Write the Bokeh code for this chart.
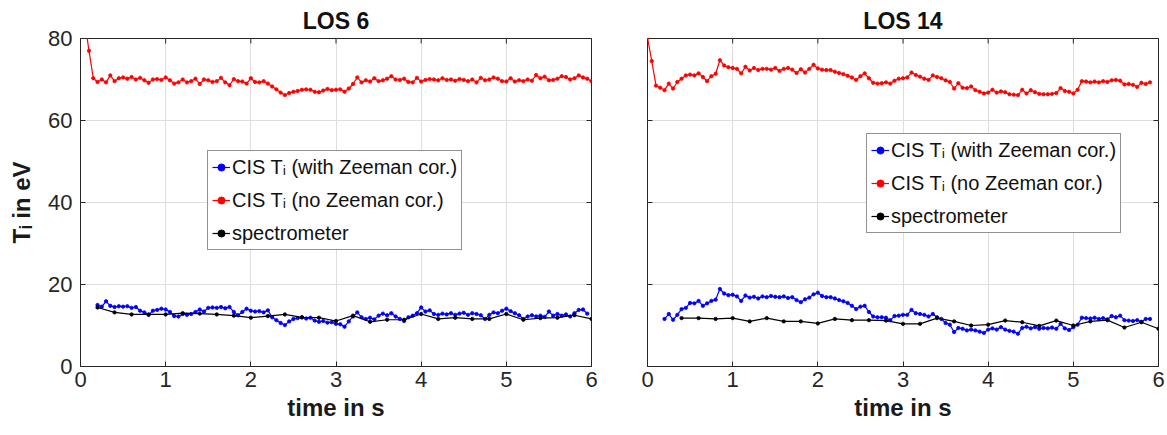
import numpy as np
from bokeh.plotting import figure
from bokeh.layouts import row
from bokeh.models import Legend, LegendItem, Range1d, FixedTicker
from bokeh.embed import file_html
from bokeh.resources import INLINE

FONT = "Liberation Sans"
AX = "#262626"

# ---------------- data ----------------
x_ticks = [0, 1, 2, 3, 4, 5, 6]
y_ticks = [0, 20, 40, 60, 80]
titles = ["LOS 6", "LOS 14"]
labels = ["CIS T\u1d62 (with Zeeman cor.)", "CIS T\u1d62 (no Zeeman cor.)", "spectrometer"]

cis_dt = 0.05
spec_dt = 0.2

# LOS 6
los6_nozee_t0 = 0.05
los6_nozee = [84, 77, 70.3, 69.4, 70.0, 69.3, 71.0, 69.6, 70.3, 70.5,
              70.2, 70.6, 70.0, 70.4, 69.8, 69.2, 70.0, 70.1, 69.9, 70.5,
              69.8, 69.0, 69.3, 70.0, 69.3, 69.6, 70.2, 68.9, 70.0, 69.8,
              69.4, 69.6, 70.4, 69.3, 68.6, 70.1, 69.6, 69.5, 69.0, 70.3,
              69.4, 69.3, 69.6, 69.0, 68.3, 67.6, 66.8, 66.2, 66.7, 67.0,
              67.2, 67.5, 67.6, 67.5, 67.0, 66.9, 67.3, 67.7, 67.4, 67.5,
              67.6, 67.0, 67.8, 68.9, 70.5, 69.3, 69.8, 69.5, 70.3, 69.6,
              69.8, 70.2, 70.8, 70.0, 69.9, 70.2, 69.4, 69.3, 70.4, 69.5,
              69.9, 70.1, 70.0, 69.8, 70.3, 69.9, 70.0, 69.7, 70.1, 69.9,
              69.6, 70.0, 69.3, 70.4, 69.8, 70.0, 70.5, 70.2, 69.6, 69.5,
              70.3, 69.5, 69.8, 69.6, 70.0, 69.7, 71.1, 70.3, 70.7, 69.8,
              69.9, 70.2, 70.8, 70.6, 70.0, 70.3, 71.0, 70.5, 70.2, 69.6]
los6_zee_t0 = 0.20
los6_zee = [15.0, 14.6, 15.9, 14.8, 14.5, 14.7, 14.6, 14.7, 14.3, 14.5,
            13.6, 13.2, 12.6, 13.6, 13.8, 14.1, 13.9, 13.3, 12.3, 12.2,
            12.8, 12.6, 12.8, 13.3, 13.9, 13.4, 14.3, 14.4, 14.3, 14.5,
            14.2, 14.5, 13.3, 12.5, 13.3, 14.1, 13.6, 13.4, 13.5, 13.2,
            13.7, 12.0, 11.3, 10.6, 10.1, 11.0, 11.6, 11.8, 12.0, 11.7,
            11.9, 11.2, 10.9, 11.1, 10.7, 10.8, 10.4, 10.3, 9.7, 11.0,
            12.2, 13.2, 12.0, 11.6, 11.9, 11.5, 12.4, 12.9, 12.5, 13.0,
            12.2, 11.6, 11.1, 12.0, 12.4, 13.0, 14.4, 13.4, 13.7, 12.8,
            12.6, 12.9, 12.7, 13.0, 12.6, 12.9, 13.1, 12.6, 13.0, 12.8,
            12.5, 11.6, 12.6, 13.2, 13.0, 13.6, 14.1, 13.5, 13.0, 12.5,
            11.6, 12.2, 12.5, 12.2, 12.4, 12.1, 13.4, 12.4, 12.8, 12.4,
            12.7, 12.2, 13.0, 13.8, 13.9, 12.9]
los6_spec_t0 = 0.2
los6_spec = [14.4, 13.2, 12.7, 12.7, 12.7, 13.0, 12.9, 12.7, 12.4, 11.9,
             12.3, 12.7, 12.0, 11.9, 11.1, 12.4, 10.9, 11.4, 11.4, 12.8,
             11.6, 11.9, 11.6, 11.6, 12.8, 11.4, 11.8, 11.9, 12.5, 11.6]

# LOS 14
los14_nozee_t0 = 0.0
los14_nozee = [80.2, 74.5, 68.5, 68.0, 67.4, 69.0, 67.8, 69.4, 70.2, 71.0,
               71.2, 71.0, 71.5, 70.6, 69.6, 70.8, 71.4, 74.7, 73.4, 73.0,
               72.8, 72.6, 71.5, 73.1, 72.2, 72.8, 72.3, 72.6, 72.6, 72.4,
               72.8, 72.1, 72.6, 72.8, 72.4, 71.6, 72.5, 71.7, 72.6, 73.6,
               72.7, 72.4, 72.3, 72.3, 71.9, 71.6, 71.3, 70.9, 70.5, 69.9,
               70.8, 71.5, 70.3, 69.2, 69.0, 69.1, 69.3, 69.0, 69.7, 70.2,
               70.3, 70.5, 71.7, 71.1, 70.7, 70.2, 69.9, 71.0, 70.6, 70.3,
               69.8, 69.4, 67.8, 69.1, 68.0, 67.9, 68.3, 67.4, 67.0, 66.6,
               66.8, 67.5, 66.8, 67.1, 66.9, 66.4, 66.3, 66.2, 67.5, 66.6,
               67.4, 66.9, 66.5, 66.4, 66.4, 66.5, 66.7, 67.9, 67.2, 67.0,
               66.6, 67.5, 69.6, 69.5, 69.3, 69.5, 69.3, 69.6, 69.4, 69.8,
               69.9, 69.7, 68.8, 68.9, 68.7, 68.2, 69.2, 68.9, 69.3]
los14_zee_t0 = 0.20
los14_zee = [11.6, 12.8, 11.4, 12.6, 14.0, 14.3, 15.5, 15.4, 16.0, 14.8,
             15.4, 16.0, 16.3, 18.9, 17.8, 17.4, 17.5, 17.1, 16.0, 17.3,
             16.8, 17.0, 16.6, 17.1, 16.9, 17.2, 17.0, 16.9, 17.1, 16.7,
             16.9, 16.2, 15.7, 16.4, 16.8, 17.6, 18.0, 17.2, 16.9, 16.9,
             16.6, 16.2, 15.9, 15.5, 14.8, 14.0, 14.6, 14.8, 13.3, 12.2,
             12.0, 12.0, 11.9, 11.3, 12.3, 12.4, 12.6, 12.6, 13.8, 13.0,
             12.8, 12.6, 12.2, 12.8, 12.0, 11.6, 10.6, 10.2, 8.4, 9.4,
             9.2, 8.8, 9.0, 8.8, 8.5, 8.2, 9.0, 9.3, 9.0, 9.6,
             9.0, 8.7, 8.5, 8.0, 9.4, 9.7, 9.3, 9.6, 9.2, 9.4,
             9.3, 9.5, 9.2, 10.4, 9.3, 8.9, 9.6, 10.2, 11.9, 11.8,
             11.7, 11.9, 11.6, 11.8, 11.5, 12.3, 12.0, 12.4, 11.3, 11.2,
             11.1, 11.3, 10.9, 11.6, 11.6]
los14_spec_t0 = 0.4
los14_spec = [11.8, 11.8, 11.6, 11.8, 11.0, 11.8, 11.0, 11.0, 10.5, 11.6,
              11.3, 11.3, 11.2, 10.4, 10.4, 11.8, 11.0, 10.0, 10.2, 11.2,
              10.8, 9.9, 11.2, 10.0, 11.0, 11.3, 9.5, 10.8, 9.2]


def times(t0, dt, vals):
    return [round(t0 + dt * i, 3) for i in range(len(vals))]


def style_axis(ax, ticks):
    ax.ticker = FixedTicker(ticks=ticks)
    ax.major_tick_in = 5
    ax.major_tick_out = 0
    ax.minor_tick_line_color = None
    ax.axis_line_color = AX
    ax.major_tick_line_color = AX
    ax.major_label_text_color = AX
    ax.major_label_text_font = FONT
    ax.major_label_text_font_size = "22px"
    ax.axis_label_text_font = FONT
    ax.axis_label_text_font_style = "bold"
    ax.axis_label_text_font_size = "24px"
    ax.axis_label_text_color = "#1a1a1a"


def make_fig(title, red_t0, red, blue_t0, blue, spec_t0, spec,
             left_border, right_border, show_y, legend_xy):
    p = figure(frame_width=511, frame_height=328,
               min_border_left=left_border, min_border_right=right_border,
               min_border_top=38, min_border_bottom=67,
               x_range=Range1d(0, 6), y_range=Range1d(0, 80),
               output_backend="svg", toolbar_location=None,
               background_fill_color="white", border_fill_color="white")
    p.title.text = title
    p.title.align = "center"
    p.title.text_font = FONT
    p.title.text_font_size = "23px"
    p.title.text_font_style = "bold"
    p.title.text_color = "#111111"
    p.title.standoff = 10
    p.outline_line_color = AX
    p.outline_line_width = 1
    p.outline_line_alpha = 1

    style_axis(p.xaxis[0], x_ticks)
    style_axis(p.yaxis[0], y_ticks)
    p.xaxis[0].axis_label = "time in s"
    p.xaxis[0].major_label_standoff = 5
    p.xaxis[0].axis_label_standoff = 4
    if show_y:
        p.yaxis[0].axis_label = "T\u1d62 in eV"
        p.yaxis[0].major_label_standoff = 8
        p.yaxis[0].axis_label_standoff = 10
    else:
        p.yaxis[0].visible = False

    p.xgrid.ticker = FixedTicker(ticks=x_ticks)
    p.ygrid.ticker = FixedTicker(ticks=y_ticks)
    p.xgrid.grid_line_color = "#dedede"
    p.ygrid.grid_line_color = "#dedede"

    # inward box ticks on top / right (and left where no axis): dashes clipped by frame
    p.scatter(x_ticks, [y_ticks[-1]] * len(x_ticks), marker="dash", size=10,
              angle=np.pi / 2, line_color=AX, line_width=1)
    p.scatter([x_ticks[-1]] * len(y_ticks), y_ticks, marker="dash", size=10,
              line_color=AX, line_width=1)
    if not show_y:
        p.scatter([x_ticks[0]] * len(y_ticks), y_ticks, marker="dash", size=10,
                  line_color=AX, line_width=1)

    items = []
    series = [(blue_t0, cis_dt, blue, "#0000ff"),
              (red_t0, cis_dt, red, "#ff0000"),
              (spec_t0, spec_dt, spec, "#000000")]
    for (t0, dt, vals, col), lab in zip(series, labels):
        tt = times(t0, dt, vals)
        ln = p.line(tt, vals, line_color=col, line_width=1.2)
        sc = p.scatter(tt, vals, marker="circle", size=3.4,
                       fill_color=col, line_color=col, line_width=0.8)
        items.append(LegendItem(label=lab, renderers=[ln, sc]))

    leg = Legend(items=items, location=legend_xy)
    leg.label_text_font = FONT
    leg.label_text_font_size = "20px"
    leg.label_text_color = "#111111"
    leg.glyph_width = 18
    leg.glyph_height = 24
    leg.label_height = 24
    leg.label_standoff = 2
    leg.spacing = 9
    leg.padding = 4
    leg.margin = 0
    leg.border_line_color = AX
    leg.border_line_width = 1
    leg.background_fill_color = "white"
    leg.background_fill_alpha = 1
    p.add_layout(leg, "center")
    return p


p1 = make_fig(titles[0], los6_nozee_t0, los6_nozee, los6_zee_t0, los6_zee,
              los6_spec_t0, los6_spec, 80, 20, True, (127, 116))
p2 = make_fig(titles[1], los14_nozee_t0, los14_nozee, los14_zee_t0, los14_zee,
              los14_spec_t0, los14_spec, 36, 7, False, (219, 133))

layout = row(p1, p2)
open("out.html", "w").write(file_html(layout, INLINE))
